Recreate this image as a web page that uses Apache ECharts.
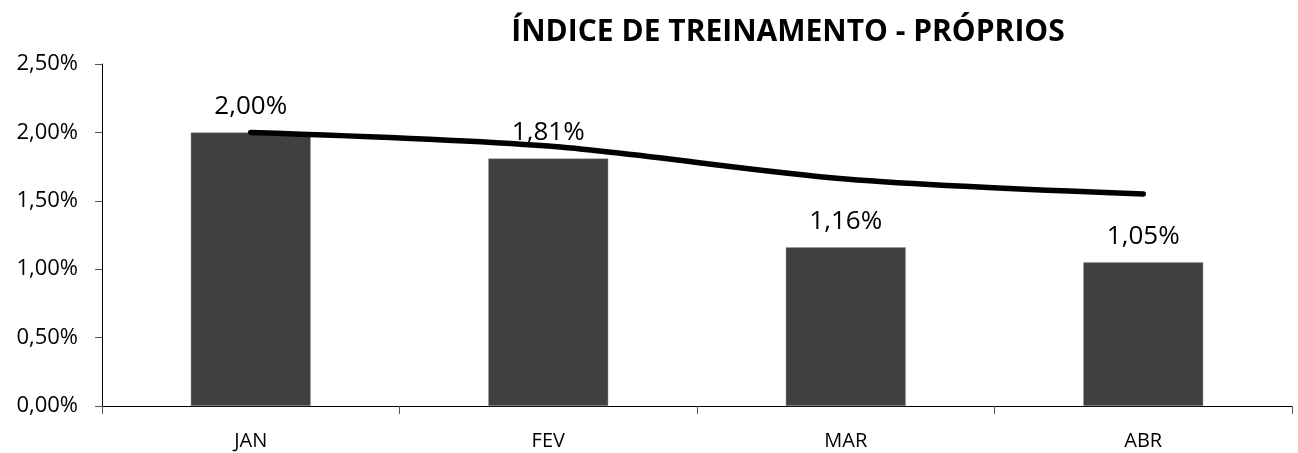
<!DOCTYPE html>
<html><head><meta charset="utf-8">
<script src="https://cdn.jsdelivr.net/npm/echarts@6/dist/echarts.min.js"></script>
<style>html,body{margin:0;padding:0;background:#fff}#c{width:1298px;height:453px}</style>
</head><body><div id="c"></div>
<script>
const categories = ['JAN', 'FEV', 'MAR', 'ABR'];
const barValues = [2.00, 1.81, 1.16, 1.05];
const lineValues = [2.00, 1.90, 1.66, 1.55];
const titleText = 'ÍNDICE DE TREINAMENTO - PRÓPRIOS';

const fmt = v => v.toFixed(2).replace('.', ',') + '%';
const font = '"Open Sans", "Noto Sans", sans-serif';

const chart = echarts.init(document.getElementById('c'), null, {renderer: 'canvas'});
chart.setOption({
  animation: false,
  backgroundColor: '#fff',
  title: {
    text: titleText, left: 783, top: 12, textAlign: 'center',
    textStyle: {fontFamily: font, fontWeight: 'bold', fontSize: 30, color: '#000'}
  },
  grid: {left: 102, right: 6, top: 64, bottom: 47},
  xAxis: {
    type: 'category', data: categories,
    axisLine: {lineStyle: {color: '#000', width: 1}},
    axisTick: {show: true, length: 8, lineStyle: {color: '#555'}},
    axisLabel: {fontFamily: font, fontSize: 20, color: '#000', margin: 25}
  },
  yAxis: {
    type: 'value', min: 0, max: 2.5, interval: 0.5,
    splitLine: {show: false},
    axisLine: {show: true, lineStyle: {color: '#000', width: 1}},
    axisTick: {show: true, length: 7, lineStyle: {color: '#555'}},
    axisLabel: {fontFamily: font, fontSize: 22, color: '#000', margin: 24, formatter: v => fmt(v)}
  },
  series: [
    {
      type: 'bar', data: barValues, barWidth: 120,
      itemStyle: {color: '#404040', borderColor: '#9a9a9a', borderWidth: 0.5},
      label: {show: true, position: 'top', distance: 13, fontFamily: font, fontSize: 26, color: '#000', formatter: p => fmt(p.value)}
    },
    {
      type: 'line', data: lineValues, smooth: 0.3, symbol: 'none',
      lineStyle: {color: '#000', width: 5.5, cap: 'round'}
    }
  ]
});
</script></body></html>
